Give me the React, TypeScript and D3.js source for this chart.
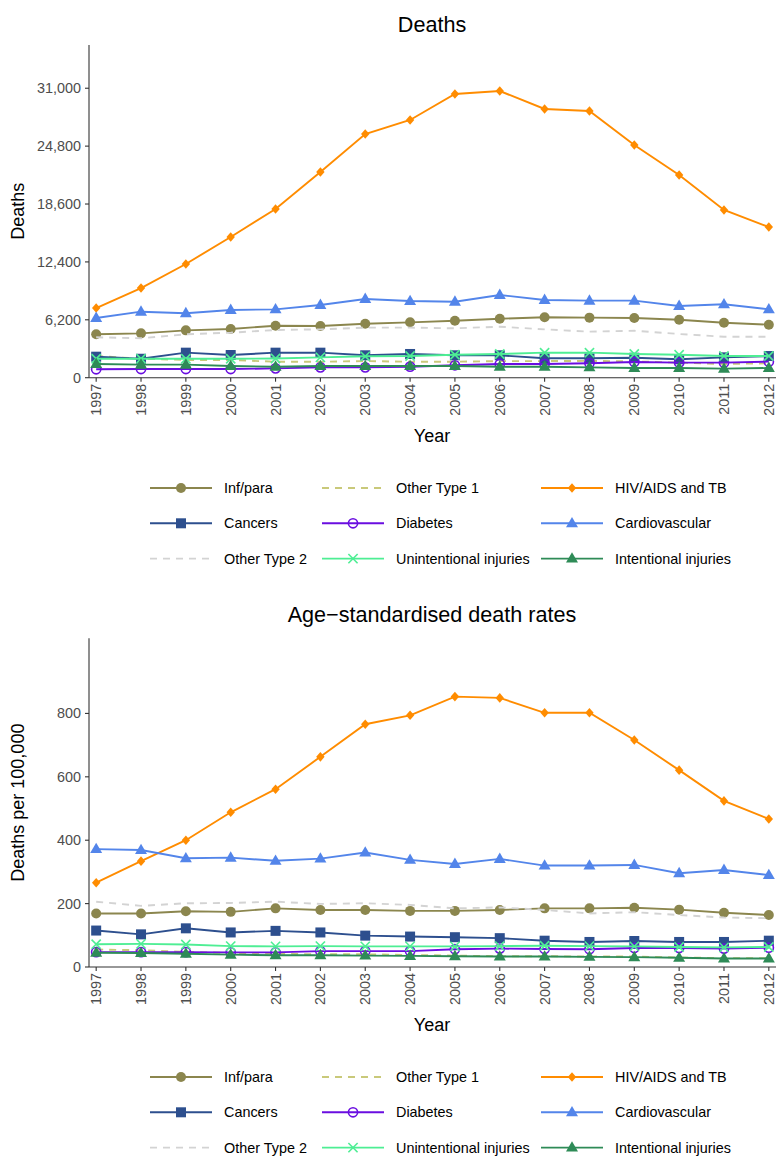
import React from 'react';
import * as d3 from 'd3';

const years = [1997, 1998, 1999, 2000, 2001, 2002, 2003, 2004, 2005, 2006, 2007, 2008, 2009, 2010, 2011, 2012];

// Deaths
const deathsInfPara = [4650, 4750, 5070, 5210, 5570, 5540, 5780, 5930, 6100, 6320, 6470, 6430, 6390, 6210, 5890, 5680];
const deathsOtherType1 = [2320, 2030, 1900, 1900, 1710, 1710, 1780, 1710, 1710, 1780, 1780, 1800, 1750, 1610, 1470, 1540];
const deathsHIV = [7460, 9600, 12180, 15070, 18070, 22030, 26100, 27600, 30380, 30700, 28780, 28560, 24920, 21700, 17960, 16140];
const deathsCancers = [2250, 2030, 2680, 2430, 2680, 2680, 2400, 2540, 2400, 2400, 2080, 2080, 2140, 1970, 2180, 2320];
const deathsDiabetes = [900, 930, 930, 930, 1000, 1110, 1110, 1180, 1330, 1470, 1470, 1540, 1680, 1610, 1610, 1720];
const deathsCardio = [6400, 7070, 6900, 7250, 7320, 7790, 8430, 8210, 8140, 8860, 8320, 8250, 8250, 7680, 7860, 7320];
const deathsOtherType2 = [4330, 4220, 4650, 4820, 5110, 5180, 5360, 5360, 5290, 5460, 5180, 4930, 5030, 4680, 4390, 4390];
const deathsUnintentional = [2030, 2030, 2030, 2030, 2060, 2180, 2290, 2320, 2460, 2540, 2680, 2680, 2540, 2460, 2320, 2320];
const deathsIntentional = [1470, 1400, 1400, 1250, 1180, 1250, 1250, 1250, 1250, 1180, 1180, 1110, 1040, 1040, 970, 1040];

// Age-standardised death rates
const rateInfPara = [169, 169, 176, 174, 185, 180, 180, 177, 177, 180, 185, 185, 187, 181, 171, 164];
const rateOtherType1 = [55, 53, 48, 44, 42, 40, 40, 38, 36, 34, 34, 33, 33, 30, 28, 28];
const rateHIV = [266, 334, 400, 488, 561, 663, 766, 794, 853, 849, 802, 802, 716, 621, 524, 467];
const rateCancers = [115, 103, 122, 109, 114, 109, 99, 96, 94, 91, 83, 79, 82, 79, 79, 83];
const rateDiabetes = [47, 47, 47, 46, 46, 50, 50, 50, 56, 58, 57, 56, 60, 60, 58, 61];
const rateCardio = [372, 369, 343, 345, 335, 342, 361, 338, 325, 341, 320, 320, 322, 296, 306, 290];
const rateOtherType2 = [206, 193, 201, 202, 206, 199, 201, 196, 185, 188, 180, 169, 173, 164, 156, 154];
const rateUnintentional = [72, 73, 71, 66, 65, 66, 65, 65, 65, 66, 67, 66, 65, 63, 62, 63];
const rateIntentional = [45, 44, 42, 39, 37, 37, 36, 35, 34, 33, 33, 32, 31, 29, 27, 27];

const seriesNames = ['Inf/para', 'Other Type 1', 'HIV/AIDS and TB', 'Cancers', 'Diabetes', 'Cardiovascular', 'Other Type 2', 'Unintentional injuries', 'Intentional injuries'];
const seriesColors = ['#8b864e', '#c9c97a', '#ff8c00', '#2d4f8e', '#6a0ee0', '#5385ea', '#d3d3d3', '#4eee94', '#2e8b57'];
const seriesShapes = ['circle', 'none', 'diamond', 'square', 'opencircle', 'triangle', 'none', 'cross', 'triangle'];
const seriesDashed = [false, true, false, false, false, false, true, false, false];

const deathsSeries = [deathsInfPara, deathsOtherType1, deathsHIV, deathsCancers, deathsDiabetes, deathsCardio, deathsOtherType2, deathsUnintentional, deathsIntentional];
const rateSeries = [rateInfPara, rateOtherType1, rateHIV, rateCancers, rateDiabetes, rateCardio, rateOtherType2, rateUnintentional, rateIntentional];

const deathsTicks = [0, 6200, 12400, 18600, 24800, 31000];
const rateTicks = [0, 200, 400, 600, 800];

const FONT = '"Liberation Sans", Arial, Helvetica, sans-serif';
const LW = 1.9;

function Marker({ shape, x, y, color }: { shape: string; x: number; y: number; color: string }) {
  if (shape === 'circle') return <circle cx={x} cy={y} r={5} fill={color} />;
  if (shape === 'opencircle') return <circle cx={x} cy={y} r={4.6} fill="none" stroke={color} strokeWidth={1.6} />;
  if (shape === 'square') return <rect x={x - 5} y={y - 5} width={10} height={10} fill={color} />;
  if (shape === 'triangle')
    return <path d={`M${x},${y - 6.4}L${x + 6},${y + 4}L${x - 6},${y + 4}Z`} fill={color} />;
  if (shape === 'diamond')
    return <path d={`M${x},${y - 4.8}L${x + 4.2},${y}L${x},${y + 4.8}L${x - 4.2},${y}Z`} fill={color} />;
  if (shape === 'cross')
    return (
      <g stroke={color} strokeWidth={1.6}>
        <line x1={x - 4.6} y1={y - 4.6} x2={x + 4.6} y2={y + 4.6} />
        <line x1={x - 4.6} y1={y + 4.6} x2={x + 4.6} y2={y - 4.6} />
      </g>
    );
  return null;
}

const xScale = d3.scaleLinear().domain([1996.84, 2012.16]).range([89, 776]);

function Panel({ title, yTitle, series, yMax, ticks, top, bottom, titleY, yearY, legendY }: any) {
  const yScale = d3.scaleLinear().domain([0, yMax]).range([bottom, top]);
  const fmt = d3.format(',');
  const line = d3
    .line<number>()
    .x((_, i) => xScale(years[i]))
    .y((d) => yScale(d));
  const legendCols = [150, 322, 541];
  const legendRowGap = 35.3;
  return (
    <g fontFamily={FONT}>
      <text x={432} y={titleY} textAnchor="middle" fontSize={21.6} fill="#000">
        {title}
      </text>
      <text
        transform={`translate(24,${(top + bottom) / 2}) rotate(-90)`}
        textAnchor="middle"
        fontSize={18}
        fill="#000"
      >
        {yTitle}
      </text>
      {/* y axis */}
      <line x1={89} x2={89} y1={top} y2={bottom} stroke="#333" strokeWidth={1.1} />
      {ticks.map((t: number) => (
        <g key={t}>
          <line x1={85} x2={89} y1={yScale(t)} y2={yScale(t)} stroke="#333" strokeWidth={1.1} />
          <text x={81} y={yScale(t)} dy="0.35em" textAnchor="end" fontSize={14.4} fill="#4d4d4d">
            {fmt(t)}
          </text>
        </g>
      ))}
      {/* x axis */}
      <line x1={89} x2={776} y1={bottom} y2={bottom} stroke="#333" strokeWidth={1.1} />
      {years.map((yr) => (
        <g key={yr}>
          <line x1={xScale(yr)} x2={xScale(yr)} y1={bottom} y2={bottom + 4} stroke="#333" strokeWidth={1.1} />
          <text
            transform={`translate(${xScale(yr)},${bottom + 6}) rotate(-90)`}
            dy="0.35em"
            textAnchor="end"
            fontSize={14.4}
            fill="#4d4d4d"
          >
            {yr}
          </text>
        </g>
      ))}
      <text x={432} y={yearY} textAnchor="middle" fontSize={18} fill="#000">
        Year
      </text>
      {/* series */}
      {series.map((vals: number[], si: number) => (
        <g key={si}>
          <path
            d={line(vals) || ''}
            fill="none"
            stroke={seriesColors[si]}
            strokeWidth={LW}
            strokeDasharray={seriesDashed[si] ? '7,6' : undefined}
          />
          {vals.map((v, i) => (
            <Marker key={i} shape={seriesShapes[si]} x={xScale(years[i])} y={yScale(v)} color={seriesColors[si]} />
          ))}
        </g>
      ))}
      {/* legend */}
      {seriesNames.map((name, si) => {
        const col = si % 3;
        const row = Math.floor(si / 3);
        const lx = legendCols[col];
        const ly = legendY + row * legendRowGap;
        return (
          <g key={name}>
            <line
              x1={lx}
              x2={lx + 62}
              y1={ly}
              y2={ly}
              stroke={seriesColors[si]}
              strokeWidth={LW}
              strokeDasharray={seriesDashed[si] ? '7,6' : undefined}
            />
            <Marker shape={seriesShapes[si]} x={lx + 31} y={ly} color={seriesColors[si]} />
            <text x={lx + 74} y={ly} dy="0.35em" fontSize={14.4} fill="#000">
              {name}
            </text>
          </g>
        );
      })}
    </g>
  );
}

export default function App() {
  return (
    <svg width={780} height={1156} style={{ position: 'absolute', left: 0, top: 0, background: '#fff' }}>
      <rect width={780} height={1156} fill="#fff" />
      <Panel
        title="Deaths"
        yTitle="Deaths"
        series={deathsSeries}
        yMax={35630}
        ticks={deathsTicks}
        top={45}
        bottom={377.7}
        titleY={32}
        yearY={442}
        legendY={488}
      />
      <Panel
        title="Age−standardised death rates"
        yTitle="Deaths per 100,000"
        series={rateSeries}
        yMax={1037}
        ticks={rateTicks}
        top={638.3}
        bottom={967}
        titleY={622}
        yearY={1031}
        legendY={1077}
      />
    </svg>
  );
}
